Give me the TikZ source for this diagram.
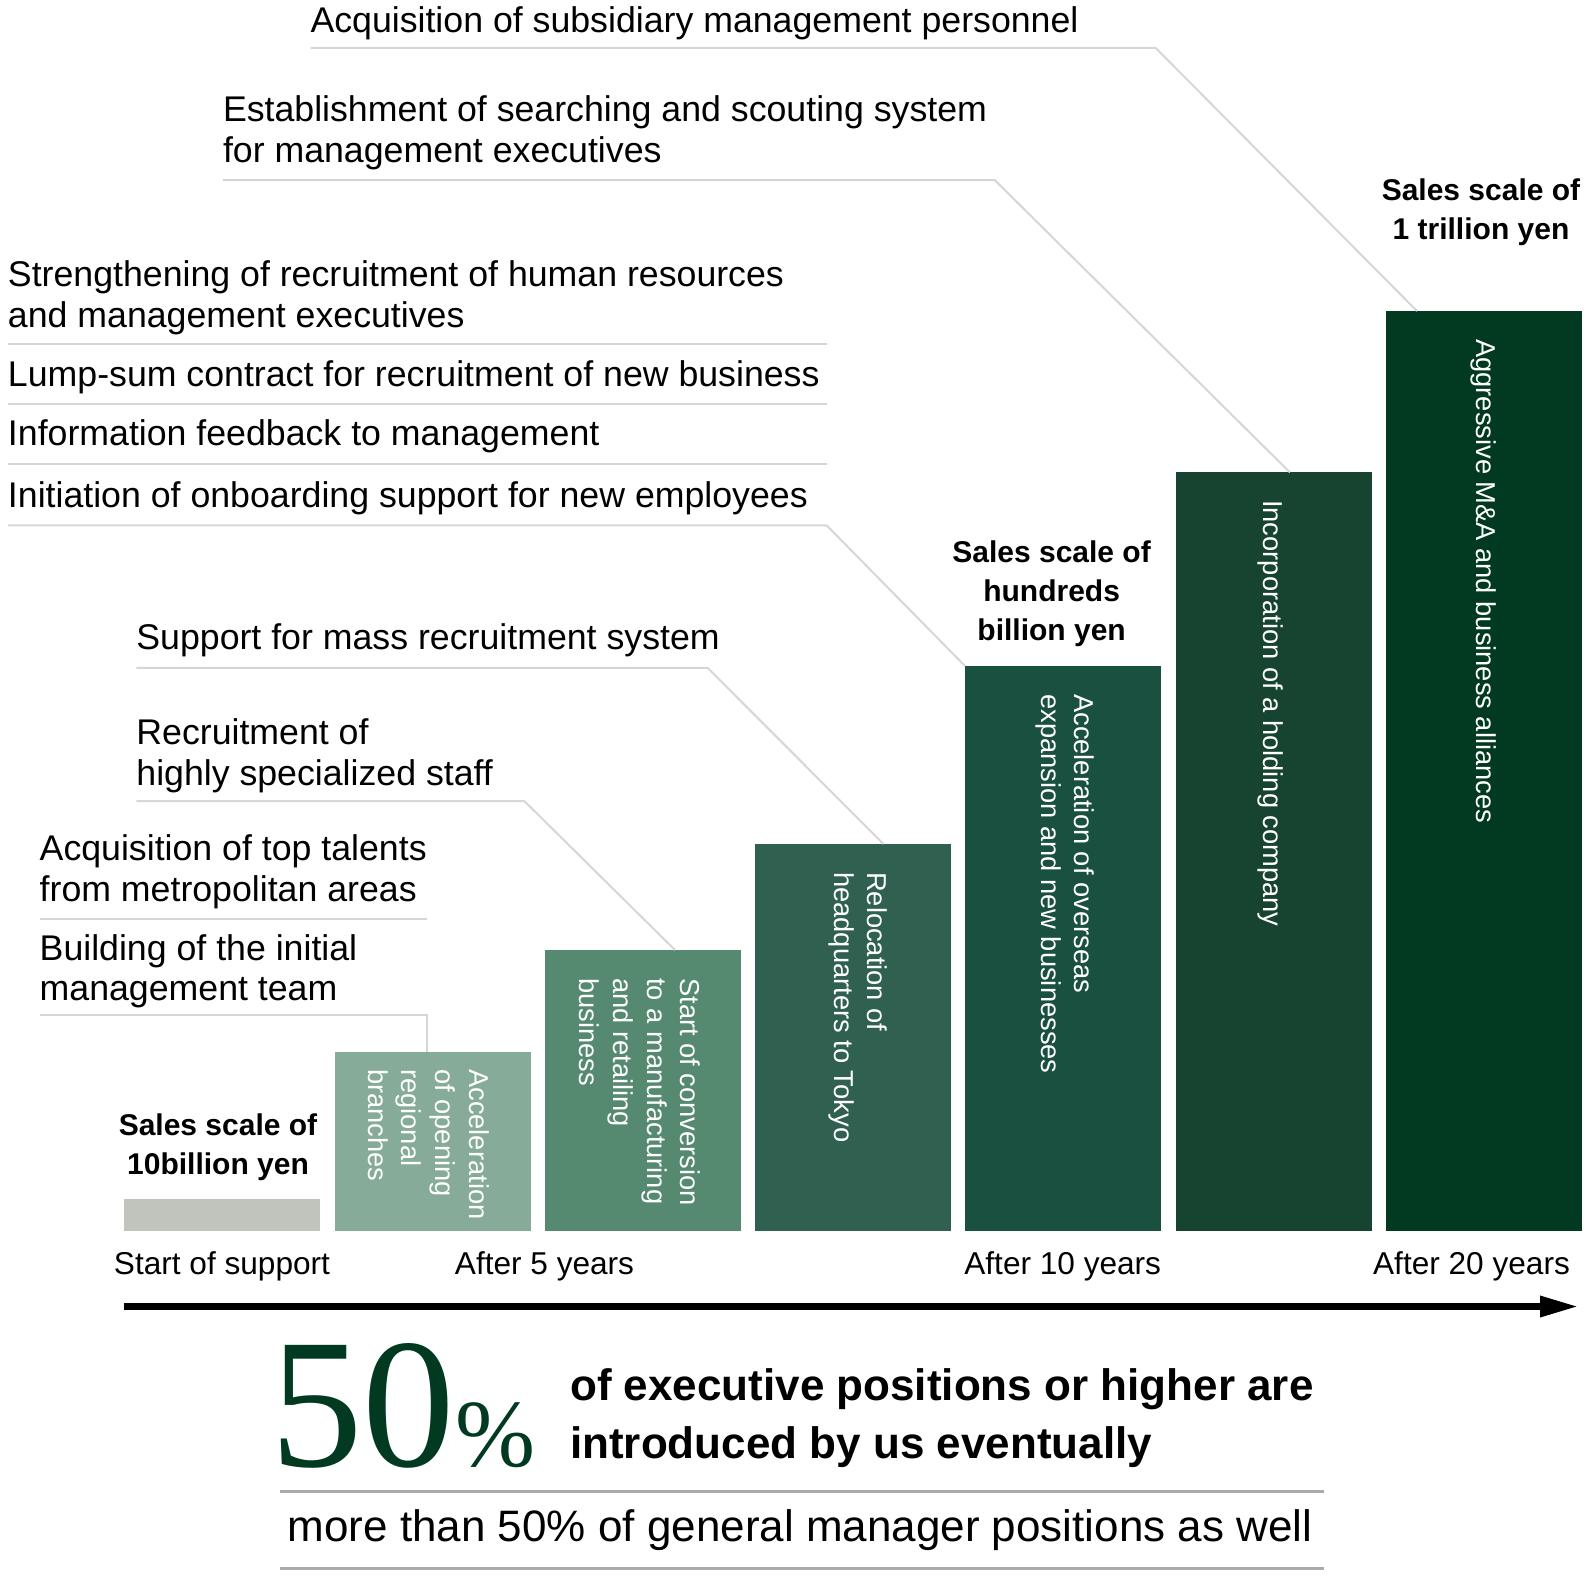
\documentclass[tikz,border=0pt]{standalone}
\usepackage{fontspec}
\setmainfont{Liberation Sans}
\newfontfamily\numfont{Liberation Serif}
\usetikzlibrary{arrows.meta,calc}
\definecolor{gbar}{HTML}{C1C3BD}
\definecolor{c1}{HTML}{86AB98}
\definecolor{c2}{HTML}{558A70}
\definecolor{c3}{HTML}{306150}
\definecolor{c4}{HTML}{1A5040}
\definecolor{c5}{HTML}{164430}
\definecolor{c6}{HTML}{013A20}
\definecolor{lnc}{HTML}{D6D6D6}
\definecolor{bline}{HTML}{AAAAAA}
\newcommand\stackL[1]{\vtop{\halign{##\hfil\cr#1\crcr}}}
\newcommand\stackC[1]{\vtop{\halign{\hfil##\hfil\cr#1\crcr}}}
\tikzset{
  lbl/.style={anchor=base west, inner sep=0pt, outer sep=0pt, font=\fontsize{35.7}{40.7}\selectfont},
  ulin/.style={draw=lnc, line width=2pt},
  barbox/.style={anchor=south west, inner sep=0pt, outer sep=0pt, minimum width=196pt},
  bartxt/.style={anchor=west, rotate=-90, inner sep=0pt, text=white, align=left, font=\fontsize{27.3}{33.6}\selectfont},
  sales/.style={anchor=base, inner sep=0pt, font=\bfseries\fontsize{30}{39}\selectfont},
  axl/.style={anchor=base, inner sep=0pt, font=\fontsize{31.6}{37}\selectfont},
  rule/.style={draw=bline, line width=3pt},
}
\begin{document}
\begin{tikzpicture}[x=1pt,y=-1pt]
\useasboundingbox (0,0) rectangle (1588,1596);
% bars
\node[barbox, fill=gbar, minimum height=32pt] (b0) at (124,1231) {};
\node[barbox, fill=c1, minimum height=178.7pt] (b1) at (334.5,1231) {};
\node[barbox, fill=c2, minimum height=281pt] (b2) at (545,1231) {};
\node[barbox, fill=c3, minimum height=387pt] (b3) at (755,1231) {};
\node[barbox, fill=c4, minimum height=565pt] (b4) at (965,1231) {};
\node[barbox, fill=c5, minimum height=758.6pt] (b5) at (1175.5,1231) {};
\node[barbox, fill=c6, minimum height=920pt] (b6) at (1385.5,1231) {};
% bar texts
\node[bartxt] (t1) at (428.5,1069) {Acceleration\\of opening\\regional\\branches};
\node[bartxt] (t2) at (640,978) {Start of conversion\\to a manufacturing\\and retailing\\business};
\node[bartxt] (t3) at (858,872) {Relocation of\\headquarters to Tokyo};
\node[bartxt] (t4) at (1065,694) {Acceleration of overseas\\expansion and new businesses};
\node[bartxt] (t5) at (1271,500) {Incorporation of a holding company};
\node[bartxt] (t6) at (1484,339) {Aggressive M\&A and business alliances};
% top labels
\node[lbl] (a1) at (310.5,32) {Acquisition of subsidiary management personnel};
\node[lbl] (a2) at (223,121.5) {\stackL{Establishment of searching and scouting system\cr for management executives}};
\node[lbl] (a3) at (8,286.3) {\stackL{Strengthening of recruitment of human resources\cr and management executives}};
\node[lbl] (a4) at (8,386) {Lump-sum contract for recruitment of new business};
\node[lbl] (a5) at (8,445) {Information feedback to management};
\node[lbl] (a6) at (8,507) {Initiation of onboarding support for new employees};
\node[lbl] (a7) at (136.4,649.8) {Support for mass recruitment system};
\node[lbl] (a8) at (136.4,744.5) {\stackL{Recruitment of\cr highly specialized staff}};
\node[lbl] (a9) at (39.7,860.5) {\stackL{Acquisition of top talents\cr from metropolitan areas}};
\node[lbl] (a10) at (39.7,960) {\stackL{Building of the initial\cr management team}};
% underlines and connectors
\coordinate (u1a) at (310.5,47.8); \coordinate (u1b) at (1155.5,47.8);
\draw[ulin] (u1a) -- (u1b) -- ($(b6.north west)+(31.5,0)$);
\coordinate (u2a) at (223,180); \coordinate (u2b) at (994.6,180);
\draw[ulin] (u2a) -- (u2b) -- ($(b5.north west)+(114.5,0)$);
\coordinate (u3a) at (8,344); \coordinate (u3b) at (826.6,344);
\draw[ulin] (u3a) -- (u3b);
\coordinate (u4a) at (8,404); \coordinate (u4b) at (826.6,404);
\draw[ulin] (u4a) -- (u4b);
\coordinate (u5a) at (8,464.2); \coordinate (u5b) at (826.6,464.2);
\draw[ulin] (u5a) -- (u5b);
\coordinate (u6a) at (8,525.3); \coordinate (u6b) at (826.6,525.3);
\draw[ulin] (u6a) -- (u6b) -- (b4.north west);
\coordinate (u7a) at (136.4,667.8); \coordinate (u7b) at (707.5,667.8);
\draw[ulin] (u7a) -- (u7b) -- ($(b3.north west)+(128.5,0)$);
\coordinate (u8a) at (136.4,801); \coordinate (u8b) at (524.3,801);
\draw[ulin] (u8a) -- (u8b) -- ($(b2.north west)+(130,0)$);
\coordinate (u9a) at (39.7,919.3); \coordinate (u9b) at (426.5,919.3);
\draw[ulin] (u9a) -- (u9b);
\coordinate (u10a) at (39.7,1015); \coordinate (u10b) at (426.5,1015);
\draw[ulin] (u10a) -- (u10b) -- ($(b1.north west)+(92,0)$);
% sales labels
\node[sales] (s0) at (218,1135.7) {\stackC{Sales scale of\cr 10billion yen}};
\node[sales] (s4) at (1051.6,562.4) {\stackC{Sales scale of\cr hundreds\cr billion yen}};
\node[sales] (s6) at (1481,200) {\stackC{Sales scale of\cr 1 trillion yen}};
% axis labels
\node[axl] (x0) at (222,1274) {Start of support};
\node[axl] (x5) at (544.5,1274) {After 5 years};
\node[axl] (x10) at (1062.7,1274) {After 10 years};
\node[axl] (x20) at (1471.5,1274) {After 20 years};
% axis arrow
\coordinate (axs) at (124,1306.5); \coordinate (axe) at (1578,1306.5);
\draw[line width=6.5pt, -{Triangle[length=38pt,width=20pt]}] (axs) -- (axe);
% bottom statement
\node[anchor=base west, inner sep=0pt, text=c6, font=\numfont\fontsize{185}{185}\selectfont] (n50) at (270,1466) {50};
\node[anchor=base west, inner sep=0pt, text=c6, font=\numfont\fontsize{96}{96}\selectfont] (pct) at (455,1466) {\%};
\node[anchor=base west, inner sep=0pt, font=\bfseries\fontsize{44}{58}\selectfont] (exec) at (570,1400) {\stackL{of executive positions or higher are\cr introduced by us eventually}};
\coordinate (l1a) at (279.6,1491.7); \coordinate (l1b) at (1324,1491.7);
\draw[rule] (l1a) -- (l1b);
\node[anchor=base west, inner sep=0pt, font=\fontsize{44}{50}\selectfont] (gm) at (287.5,1541) {more than 50\% of general manager positions as well};
\coordinate (l2a) at (279.6,1568); \coordinate (l2b) at (1324,1568);
\draw[rule] (l2a) -- (l2b);
\end{tikzpicture}
\end{document}
